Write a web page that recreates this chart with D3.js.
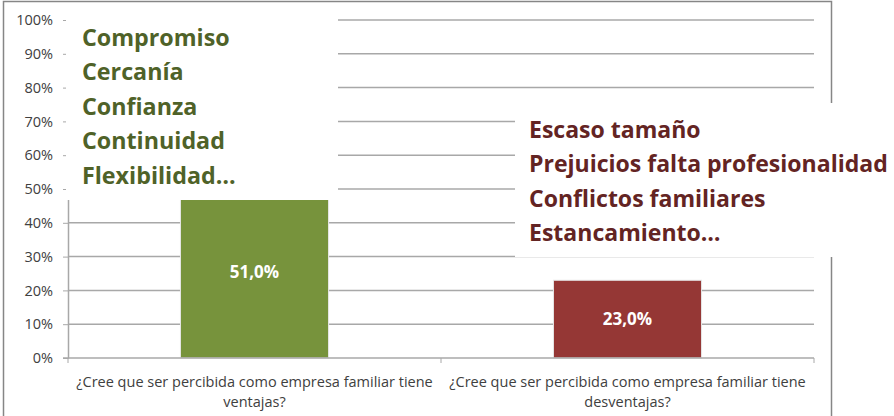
<!DOCTYPE html>
<html>
<head>
<meta charset="utf-8">
<script src="https://cdn.jsdelivr.net/npm/d3@7"></script>
<style>
  body { margin: 0; background: #fff; }
  svg { display: block; font-family: "Open Sans", "Noto Sans", sans-serif; }
</style>
</head>
<body>
<div id="chart"></div>
<script>
// data
const categories = ['ventajas', 'desventajas'];
const categoryLines = [
  ['¿Cree que ser percibida como empresa familiar tiene', 'ventajas?'],
  ['¿Cree que ser percibida como empresa familiar tiene', 'desventajas?']
];
const values = [0.51, 0.23];
const valueLabels = ['51,0%', '23,0%'];
const yTicks = [0, 0.1, 0.2, 0.3, 0.4, 0.5, 0.6, 0.7, 0.8, 0.9, 1];
const advantages = ['Compromiso', 'Cercanía', 'Confianza', 'Continuidad', 'Flexibilidad…'];
const disadvantages = ['Escaso tamaño', 'Prejuicios falta profesionalidad', 'Conflictos familiares', 'Estancamiento…'];

const width = 894, height = 416;
const margin = { top: 20, right: 80, bottom: 58, left: 68 };
const barColors = ['#77933c', '#953735'];

const svg = d3.select('#chart').append('svg')
  .attr('width', width)
  .attr('height', height);

// outer frame
svg.append('rect')
  .attr('x', 3.5).attr('y', 1.5)
  .attr('width', 828).attr('height', 460)
  .attr('fill', '#fff')
  .attr('stroke', '#868686')
  .attr('stroke-width', 1.5);

const x = d3.scaleBand()
  .domain(categories)
  .range([margin.left, width - margin.right])
  .padding(0);

const y = d3.scaleLinear()
  .domain([0, 1])
  .range([height - margin.bottom, margin.top]);

// gridlines
svg.append('g')
  .selectAll('line')
  .data(yTicks.filter(d => d > 0))
  .join('line')
  .attr('x1', margin.left).attr('x2', width - margin.right)
  .attr('y1', d => y(d)).attr('y2', d => y(d))
  .attr('stroke', '#a8a8a8')
  .attr('stroke-width', 1.5);

// y axis
const yAxis = svg.append('g')
  .attr('transform', `translate(${margin.left},0)`)
  .call(d3.axisLeft(y).tickValues(yTicks).tickFormat(d3.format('.0%')).tickSize(5).tickSizeOuter(0));
yAxis.select('.domain').attr('stroke', '#a8a8a8').attr('stroke-width', 1.5);
yAxis.selectAll('.tick line').attr('stroke', '#a8a8a8');
yAxis.selectAll('.tick text')
  .attr('x', -15)
  .attr('fill', '#404040')
  .style('font-size', '14.5px')
  .style('font-family', '"Open Sans", sans-serif');

// bars
const bw = x.bandwidth() * 0.397;
svg.append('g')
  .selectAll('rect')
  .data(values)
  .join('rect')
  .attr('x', (d, i) => x(categories[i]) + (x.bandwidth() - bw) / 2)
  .attr('y', d => y(d))
  .attr('width', bw)
  .attr('height', d => y(0) - y(d))
  .attr('fill', (d, i) => barColors[i])
  .attr('stroke', '#e6e6e6')
  .attr('stroke-width', 1);

// value labels
svg.append('g')
  .selectAll('text')
  .data(values)
  .join('text')
  .attr('x', (d, i) => x(categories[i]) + x.bandwidth() / 2)
  .attr('y', d => (y(d) + y(0)) / 2)
  .attr('dy', '0.35em')
  .attr('text-anchor', 'middle')
  .attr('fill', '#fff')
  .style('font-size', '17px')
  .style('font-weight', 'bold')
  .text((d, i) => valueLabels[i]);

// x axis line and category ticks
svg.append('line')
  .attr('x1', margin.left - 5).attr('x2', width - margin.right)
  .attr('y1', y(0)).attr('y2', y(0))
  .attr('stroke', '#a8a8a8').attr('stroke-width', 1.5);
svg.append('g')
  .selectAll('line')
  .data([...categories.map(c => x(c)), x.range()[1]])
  .join('line')
  .attr('x1', d => d).attr('x2', d => d)
  .attr('y1', y(0)).attr('y2', y(0) + 5)
  .attr('stroke', '#a8a8a8');

const catText = svg.append('g')
  .selectAll('text')
  .data(categoryLines)
  .join('text')
  .attr('text-anchor', 'middle')
  .attr('fill', '#404040')
  .style('font-size', '14.5px');
catText.selectAll('tspan')
  .data((d, i) => d.map(t => ({ t, i })))
  .join('tspan')
  .attr('x', d => x(categories[d.i]) + x.bandwidth() / 2)
  .attr('y', (d, j) => y(0) + 29 + j * 20)
  .text(d => d.t);

// callout boxes (text squeezed horizontally to a Calibri-like width)
function callout(lines, bx, by, bwid, bht, tx, ty, color, squeeze) {
  svg.append('rect')
    .attr('x', bx).attr('y', by)
    .attr('width', bwid).attr('height', bht)
    .attr('fill', '#fff');
  svg.append('g')
    .attr('transform', `translate(${tx},${ty}) scale(${squeeze},1)`)
    .selectAll('text')
    .data(lines)
    .join('text')
    .attr('x', 0)
    .attr('y', (d, i) => i * 34.5)
    .attr('fill', color)
    .style('font-size', '24px')
    .style('font-weight', 'bold')
    .text(d => d);
}
callout(advantages, 66, 10, 272, 190, 82, 46, '#4f6228', 0.97);
callout(disadvantages, 515, 103, 379, 154, 529, 138, '#632423', 0.96);
</script>
</body>
</html>
